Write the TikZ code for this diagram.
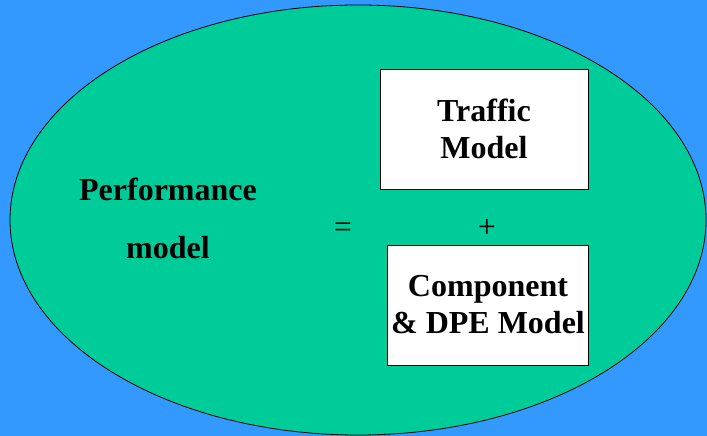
\documentclass[tikz,border=0pt]{standalone}
\usepackage{fontspec}
\setmainfont{Liberation Serif}
\usetikzlibrary{positioning}

\definecolor{slideblue}{HTML}{3399FF}
\definecolor{blobgreen}{HTML}{00CC99}

\tikzset{
    modelbox/.style = {draw, fill=white, line width=0.8pt, align=center,
                       font=\fontsize{32}{37}\selectfont\bfseries},
    opsign/.style = {font=\fontsize{32}{37}\selectfont}
}

\begin{document}
\begin{tikzpicture}[x=1pt, y=1pt]
        \fill [slideblue] (0, 0) rectangle (707, 436);
        \draw [fill=blobgreen, line width=0.8pt] (358, 216) ellipse [x radius=348, y radius=215];

        \node [align=center, font=\fontsize{32}{58}\selectfont\bfseries] (perf) at (168, 218) {Performance\\model};
        \node [opsign] (eq) at (343, 206) {=};

        \node [modelbox, minimum width=208, minimum height=120] (traffic) at (484, 307) {Traffic\\Model};
        \node [opsign] (plus) at (487, 208) {+};
        \node [modelbox, minimum width=200, minimum height=120] (comp) at (488, 131) {Component\\\& DPE Model};
    \end{tikzpicture}
\end{document}
